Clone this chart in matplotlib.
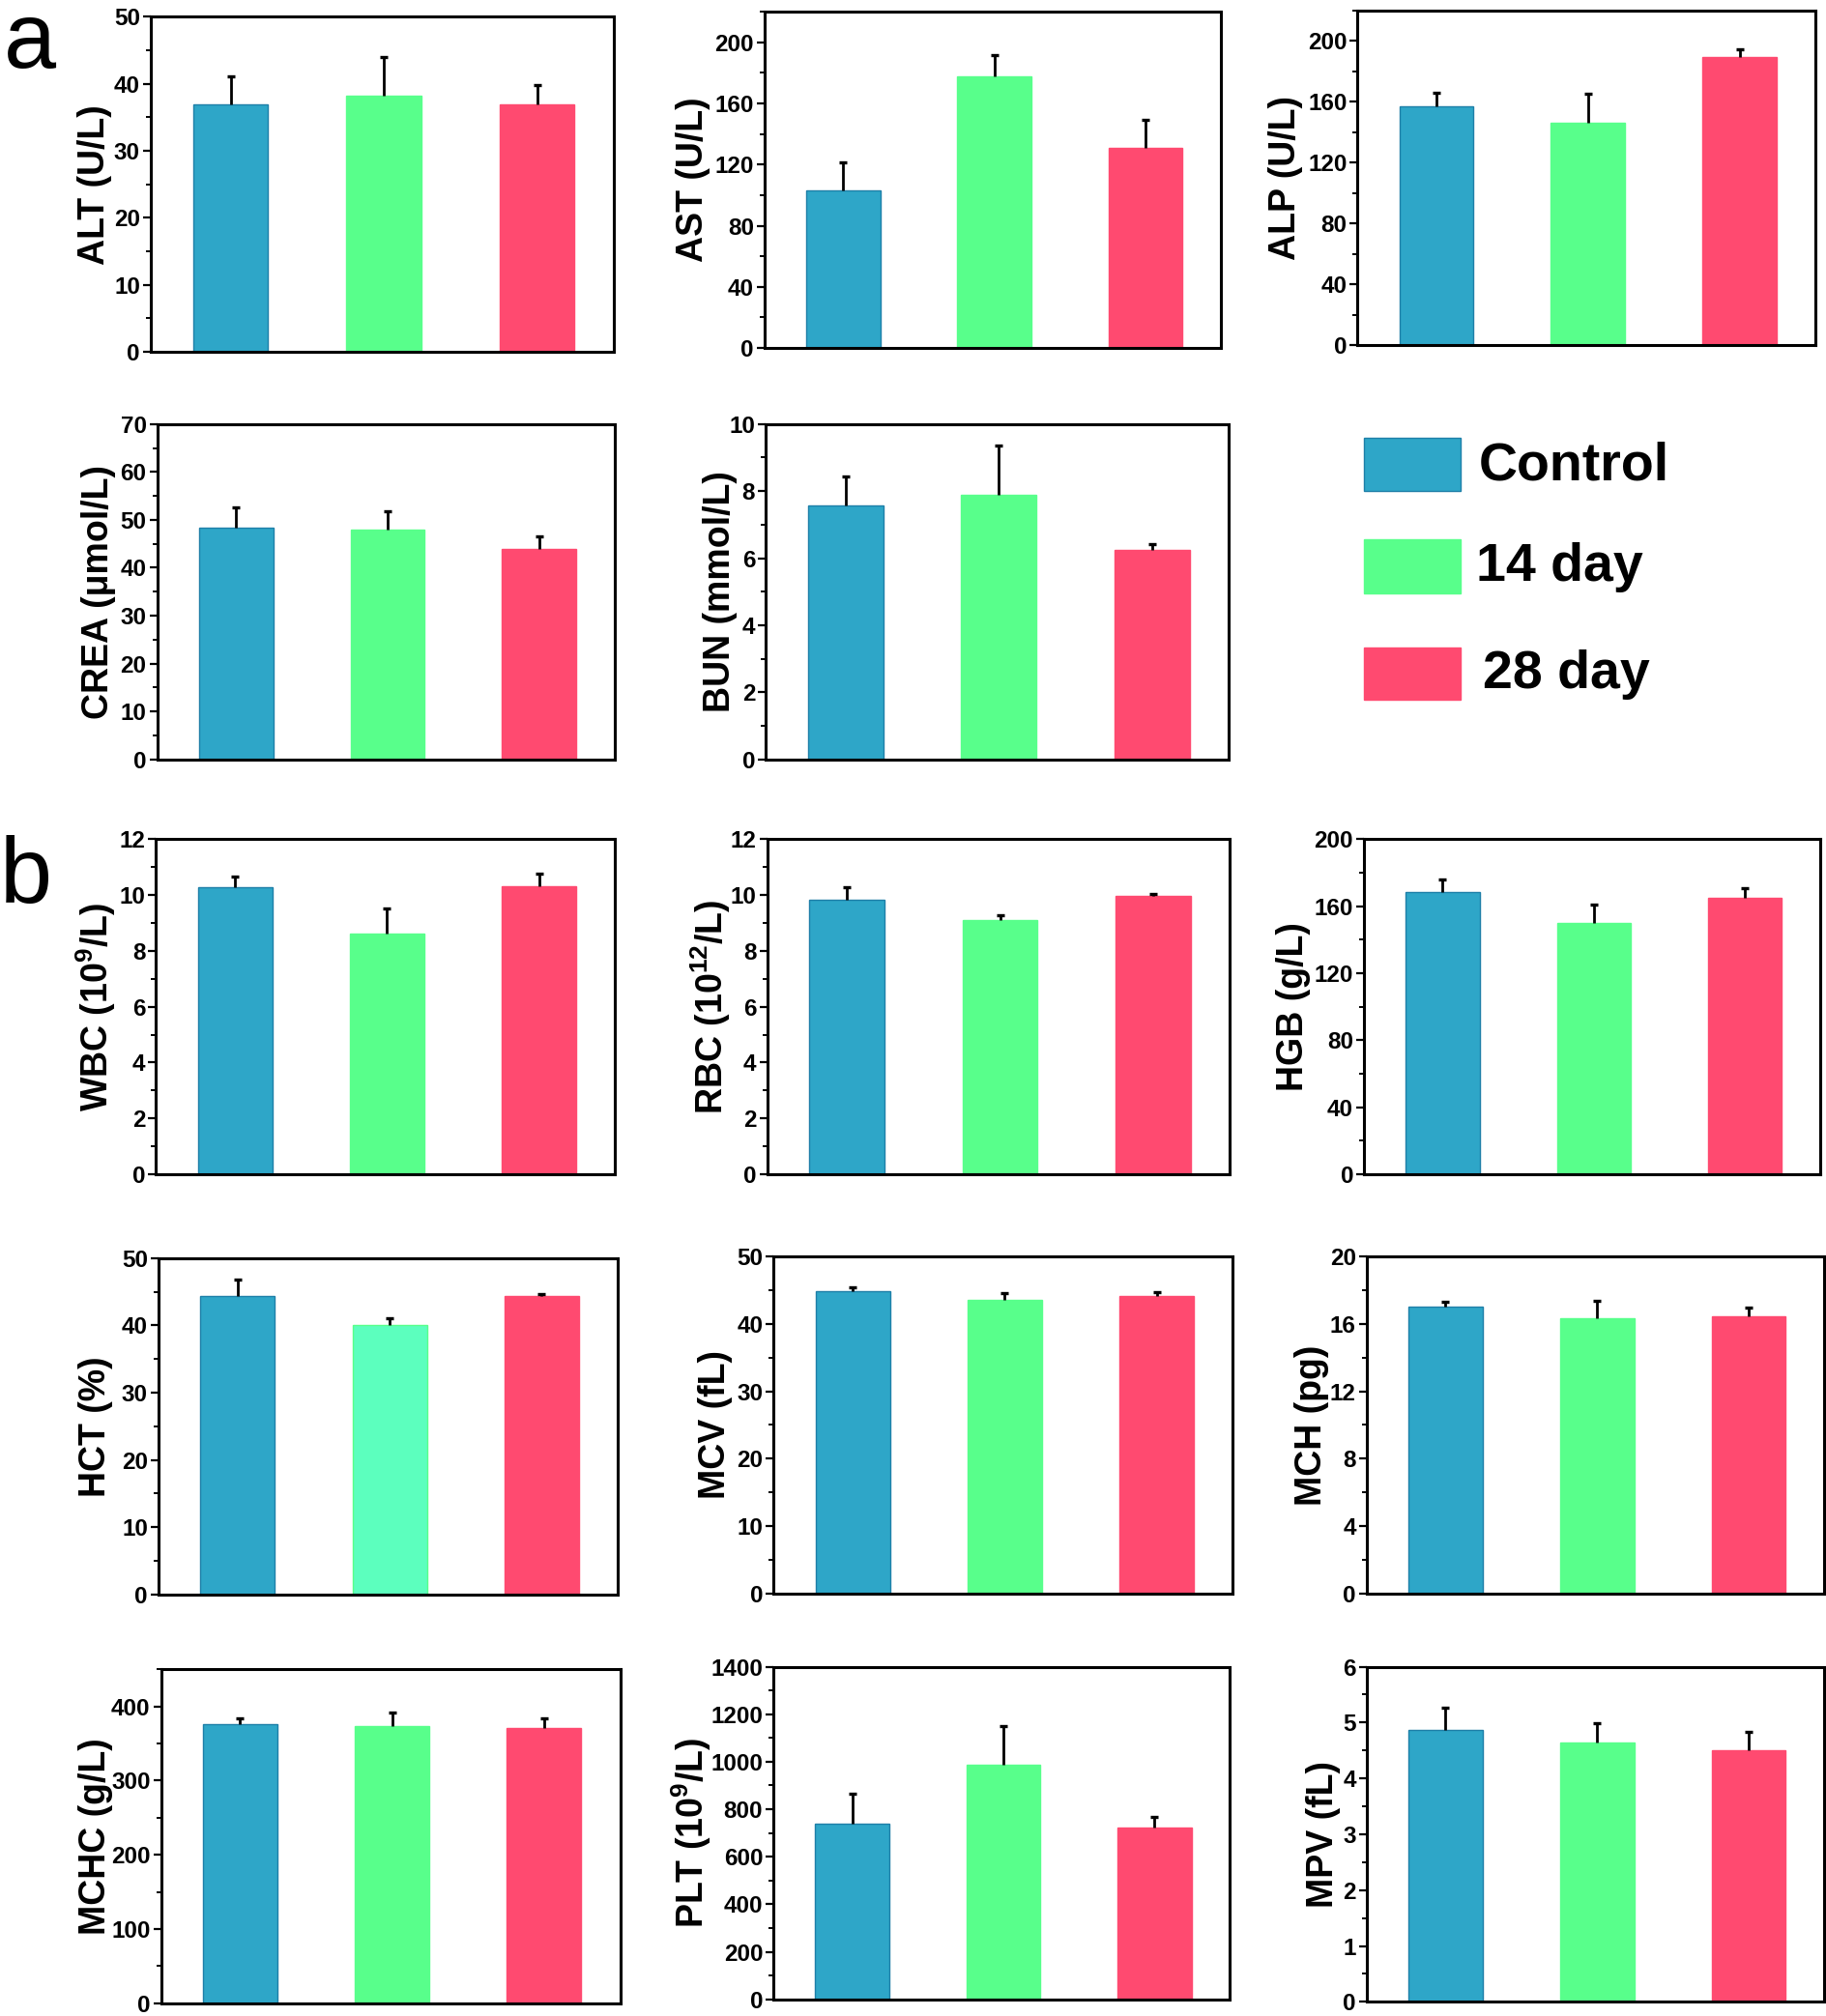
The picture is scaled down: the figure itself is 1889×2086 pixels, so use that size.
import matplotlib
matplotlib.use("Agg")
import matplotlib.pyplot as plt
from matplotlib.patches import Rectangle
from matplotlib.ticker import MultipleLocator

plt.rcParams['font.family'] = ['Liberation Sans', 'DejaVu Sans']
plt.rcParams['font.weight'] = 'bold'
plt.rcParams['mathtext.fontset'] = 'custom'
plt.rcParams['mathtext.rm'] = 'Liberation Sans:bold'
plt.rcParams['mathtext.bf'] = 'Liberation Sans:bold'
plt.rcParams['mathtext.default'] = 'bf'

# ---------------- data ----------------
groups = ['Control', '14 day', '28 day']
colors = ['#2EA6C8', '#58FF8B', '#FF4A70']
edge_colors = ['#1E7FA8', '#58FF8B', '#FF4A70']

alt_mean = [37.0, 38.2, 36.9];    alt_err = [4.1, 5.8, 2.9]
ast_mean = [103.1, 177.4, 131.2]; ast_err = [18.2, 14.2, 17.8]
alp_mean = [157.0, 146.5, 189.4]; alp_err = [8.7, 18.6, 5.3]
crea_mean = [48.3, 48.0, 44.0];   crea_err = [4.4, 3.8, 2.5]
bun_mean = [7.58, 7.88, 6.24];    bun_err = [0.85, 1.47, 0.19]
wbc_mean = [10.27, 8.63, 10.32];  wbc_err = [0.38, 0.88, 0.43]
rbc_mean = [9.83, 9.11, 9.97];    rbc_err = [0.44, 0.17, 0.08]
hgb_mean = [168.4, 149.9, 164.9]; hgb_err = [7.5, 11.2, 5.6]
hct_mean = [44.4, 40.0, 44.3];    hct_err = [2.4, 1.1, 0.4]
mcv_mean = [44.96, 43.66, 44.2];  mcv_err = [0.55, 0.9, 0.5]
mch_mean = [17.04, 16.35, 16.46]; mch_err = [0.3, 1.04, 0.54]
mchc_mean = [376.6, 372.8, 370.6]; mchc_err = [7.8, 19.4, 13.0]
plt_mean = [738.8, 986.9, 723.8]; plt_err = [125.0, 165.0, 43.6]
mpv_mean = [4.87, 4.64, 4.50];    mpv_err = [0.39, 0.35, 0.33]

ylabels = ['ALT (U/L)', 'AST (U/L)', 'ALP (U/L)',
           'CREA (\u03bcmol/L)', 'BUN (mmol/L)',
           'WBC (10$^{9}$/L)', 'RBC (10$^{12}$/L)', 'HGB (g/L)',
           'HCT (%)', 'MCV (fL)', 'MCH (pg)',
           'MCHC (g/L)', 'PLT (10$^{9}$/L)', 'MPV (fL)']
means = [alt_mean, ast_mean, alp_mean, crea_mean, bun_mean,
         wbc_mean, rbc_mean, hgb_mean, hct_mean, mcv_mean, mch_mean,
         mchc_mean, plt_mean, mpv_mean]
errs = [alt_err, ast_err, alp_err, crea_err, bun_err,
        wbc_err, rbc_err, hgb_err, hct_err, mcv_err, mch_err,
        mchc_err, plt_err, mpv_err]
ylims = [50, 220, 220, 70, 10, 12, 12, 200, 50, 50, 20, 450, 1400, 6]
major = [10, 40, 40, 10, 2, 2, 2, 40, 10, 10, 4, 100, 200, 1]

# ---------------- layout (reference pixel boxes, 1417x1564 scale) ----------------
W, H = 1417.0, 1564.0
boxes = [(117, 13, 476, 273), (593, 9, 947, 270), (1053, 8, 1408, 268),
         (122, 329, 477, 589), (594, 329, 953, 589),
         (121, 651, 477, 911), (595, 651, 954, 911), (1058, 651, 1412, 911),
         (123, 976, 479, 1237), (600, 975, 956, 1236), (1060, 975, 1415, 1236),
         (125, 1295, 481, 1554), (600, 1293, 954, 1551), (1060, 1293, 1415, 1553)]
# x position of the label baseline
label_base = [81, 545, 1005, 84, 566, 84, 561, 1011, 82, 562, 1025, 82, 546, 1034]

fig = plt.figure(figsize=(18.9, 20.86), dpi=100)

x = [1, 2, 3]
for i in range(14):
    l, t, r, b = boxes[i]
    ax = fig.add_axes([l / W, 1 - b / H, (r - l) / W, (b - t) / H])
    cols = list(colors)
    if i == 8:
        cols[1] = '#5CFFBE'
    ax.bar(x, means[i], width=0.49, color=cols, edgecolor=edge_colors, linewidth=1, zorder=2)
    eb = ax.errorbar(x, means[i], yerr=[[0, 0, 0], errs[i]], fmt='none',
                     ecolor='black', elinewidth=2.0, capsize=3, capthick=2.4, zorder=3)
    eb[1][0].set_visible(False)
    ax.set_xlim(0.48, 3.5)
    ax.set_xticks([])
    ax.yaxis.set_major_locator(MultipleLocator(major[i]))
    ax.yaxis.set_minor_locator(MultipleLocator(major[i] / 2))
    ax.set_ylim(0, ylims[i])
    ax.tick_params(axis='y', which='major', direction='out', length=5.5, width=1.6,
                   labelsize=17.5, pad=2.5)
    ax.tick_params(axis='y', which='minor', direction='out', length=3.5, width=1.4)
    for lab in ax.get_yticklabels():
        lab.set_fontweight('bold')
    for side in ['top', 'bottom', 'left', 'right']:
        ax.spines[side].set_linewidth(2.2)
    ax.set_ylabel(ylabels[i], fontsize=27, fontweight='bold', va='baseline')
    ax.yaxis.set_label_coords((label_base[i] - l) / (r - l), 0.5)

# legend panel
lax = fig.add_axes([0, 0, 1, 1], facecolor='none')
lax.set_xlim(0, W)
lax.set_ylim(H, 0)
lax.axis('off')
leg_y = [(340, 381), (418, 460), (502, 543)]
txt_x = [1147, 1145, 1150]
for k in range(3):
    y0, y1 = leg_y[k]
    lax.add_patch(Rectangle((1058, y0), 75, y1 - y0, facecolor=colors[k],
                            edgecolor=edge_colors[k], linewidth=1))
    lax.text(txt_x[k], (y0 + y1) / 2 + 1, groups[k], fontsize=40, fontweight='bold',
             ha='left', va='center')

fig.text(3 / W, 1 - 0 / H, 'a', fontsize=70, fontweight='normal', va='top', ha='left')
fig.text(0 / W, 1 - 648 / H, 'b', fontsize=70, fontweight='normal', va='top', ha='left')

fig.savefig('out.png', dpi=100)
